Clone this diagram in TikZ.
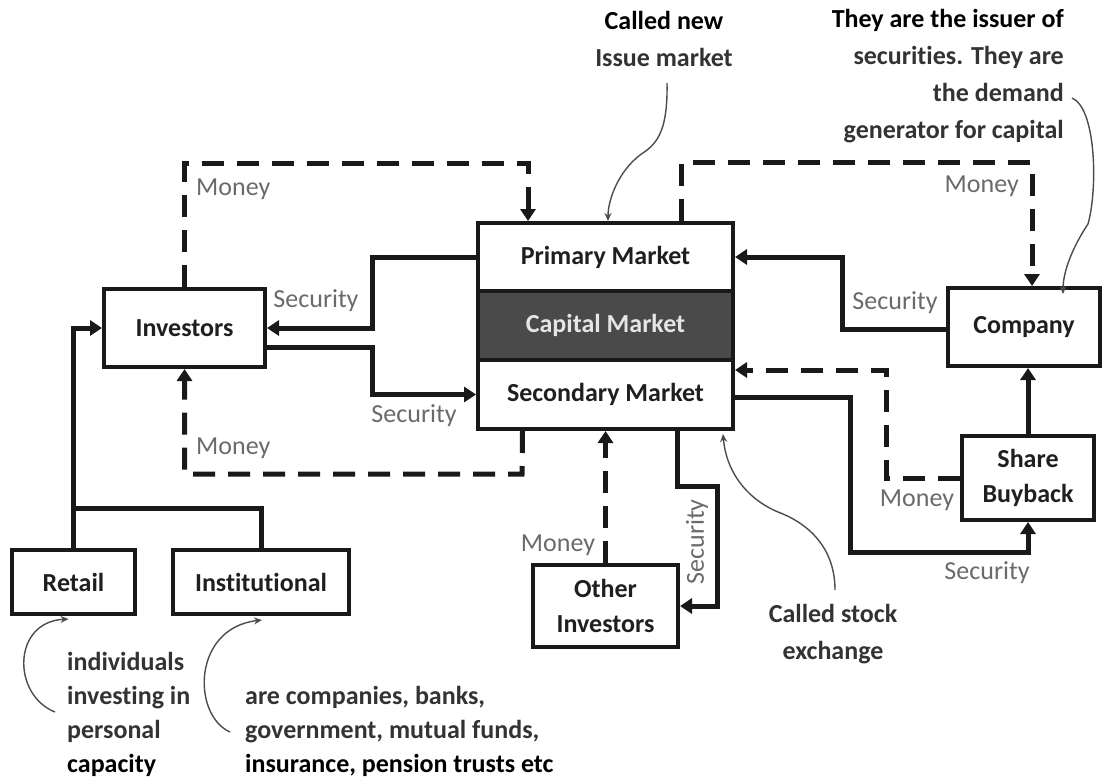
\documentclass[tikz,border=0pt]{standalone}
\usepackage{fontspec}
\setmainfont{Carlito}[Ligatures=NoCommon]
\usetikzlibrary{arrows.meta}
\definecolor{labelgray}{HTML}{6A6A6A}
\definecolor{capgray}{HTML}{4A4A4A}
\definecolor{notegray}{HTML}{333333}
\begin{document}
\begin{tikzpicture}[x=1pt,y=-1pt,
  box/.style={draw=black!90, line width=4pt, fill=white, inner sep=0pt, align=center,
    font=\fontsize{26}{35}\selectfont\bfseries, text=black!88},
  sol/.style={line width=5pt, draw=black!90},
  dsh/.style={line width=5pt, draw=black!90, dash pattern=on 22pt off 13pt},
  tip/.style={-{Triangle[length=12pt,width=15pt]}},
  lbl/.style={font=\fontsize{26}{30}\selectfont, text=labelgray, inner sep=0pt},
  note/.style={font=\fontsize{26}{37}\selectfont\bfseries, inner sep=0pt, text=notegray},
  callout/.style={line width=1.4pt, draw=black!70, -{Stealth[length=8pt,width=7pt]}},
]
\useasboundingbox (0,0) rectangle (1102,778);

% ---- boxes ----
\node[box, minimum width=255pt, minimum height=68pt] (prim) at (605.5,257) {Primary Market};
\node[box, fill=capgray, text=white!90!black, minimum width=255pt, minimum height=69pt] (cap) at (605.5,325.5) {Capital Market};
\node[box, minimum width=255pt, minimum height=69pt] (sec) at (605.5,394.5) {Secondary Market};
\node[box, minimum width=161pt, minimum height=78pt] (inv) at (184.5,328) {Investors};
\node[box, minimum width=152pt, minimum height=78pt] (comp) at (1024,327) {Company};
\node[box, minimum width=132pt, minimum height=84pt] (sb) at (1028,478) {Share\\Buyback};
\node[box, minimum width=123pt, minimum height=64pt] (ret) at (73.5,582) {Retail};
\node[box, minimum width=176pt, minimum height=64pt] (inst) at (261,582) {Institutional};
\node[box, minimum width=145pt, minimum height=82pt] (oi) at (605.5,606) {Other\\Investors};

% ---- security flows (solid) ----
\draw[sol,tip] (prim.west) -- (372,257) |- (inv.east);
\draw[sol,tip] ([yshift=-19pt]inv.east) -- (372,347) |- (sec.west);
\draw[sol,tip] ([yshift=-2pt]comp.west) -- (842,329) |- (prim.east);
\draw[sol,tip] ([yshift=-2.5pt]sec.east) -- (850,397) |- (1028,552) -- (sb.south);
\draw[sol,tip] (sb.north) -- (sb.north |- comp.south);
\draw[sol,tip] ([xshift=72pt]sec.south) -- (677.5,486) -- (717,486) |- (oi.east);
\draw[sol,tip] (ret.north) |- (inv.west);
\draw[sol] (inst.north) |- (73.5,508);

% ---- money flows (dashed) ----
\draw[dsh,tip] (inv.north) -- (184.5,164) -| ([xshift=-77.5pt]prim.north);
\draw[dsh,tip] ([xshift=-83pt]sec.south) -- (522,474) -| (inv.south);
\draw[dsh,tip] ([xshift=75.5pt]prim.north) -- (681,163) -| ([xshift=8pt]comp.north);
\draw[dsh,tip] (sb.west) -- (886,478) |- ([yshift=24.5pt]sec.east);
\draw[dsh,tip] (oi.north) -- (sec.south);

% ---- flow labels ----
\node[lbl] (s1) at (316,301) {Security};
\node[lbl] (s2) at (414,416) {Security};
\node[lbl, anchor=west] (m1) at (196,189) {Money};
\node[lbl, anchor=west] (m2) at (196,448) {Money};
\node[lbl, anchor=east] (m3) at (1019,186) {Money};
\node[lbl] (s3) at (895,303) {Security};
\node[lbl] (m4) at (917,500) {Money};
\node[lbl] (s4) at (987,573) {Security};
\node[lbl] (m5) at (558,545) {Money};
\node[lbl, rotate=90] (s5) at (697,542) {Security};

% ---- notes ----
\node[note, align=center] (n1) at (664,39) {\textcolor{black}{Called new}\\Issue market};
\node[note, align=right, anchor=east] (n2) at (1064,76) {\textcolor{black}{They are the issuer of}\\securities. They are\\the demand\\generator for capital};
\node[note, align=center] (n3) at (833,634) {Called stock\\exchange};
\node[note, align=left, anchor=west, font=\fontsize{26}{34}\selectfont\bfseries] (n4) at (67,714) {individuals\\investing in\\personal\\\textcolor{black}{capacity}};
\node[note, align=left, anchor=west, font=\fontsize{26}{34}\selectfont\bfseries] (n5) at (245,731) {are companies, banks,\\government, mutual funds,\\\textcolor{black}{insurance, pension trusts etc}};

% ---- callout curves ----
\coordinate (c1) at (667,83);
\coordinate (c2) at (1072,98);
\coordinate (c3) at (835,590);
\coordinate (c4) at (55,712);
\coordinate (c5) at (230,732);
\draw[callout] (c1) .. controls (668,135) and (655,145) .. (640,155)
  .. controls (618,172) and (608,200) .. ([xshift=2.5pt]prim.north);
\draw[callout] (c2) .. controls (1096,108) and (1098,188) .. (1088,224)
  .. controls (1072,248) and (1063,272) .. ([xshift=39pt,yshift=-8pt]comp.north);
\draw[callout] (c3) .. controls (835,545) and (805,522) .. (778,512)
  .. controls (745,498) and (726,470) .. ([xshift=117.5pt,yshift=-3pt]sec.south);
\draw[callout] (c4) .. controls (12,695) and (12,622) .. ([xshift=-5pt,yshift=-3pt]ret.south);
\draw[callout] (c5) .. controls (192,715) and (192,628) .. ([xshift=1pt,yshift=-4pt]inst.south);
\end{tikzpicture}
\end{document}
